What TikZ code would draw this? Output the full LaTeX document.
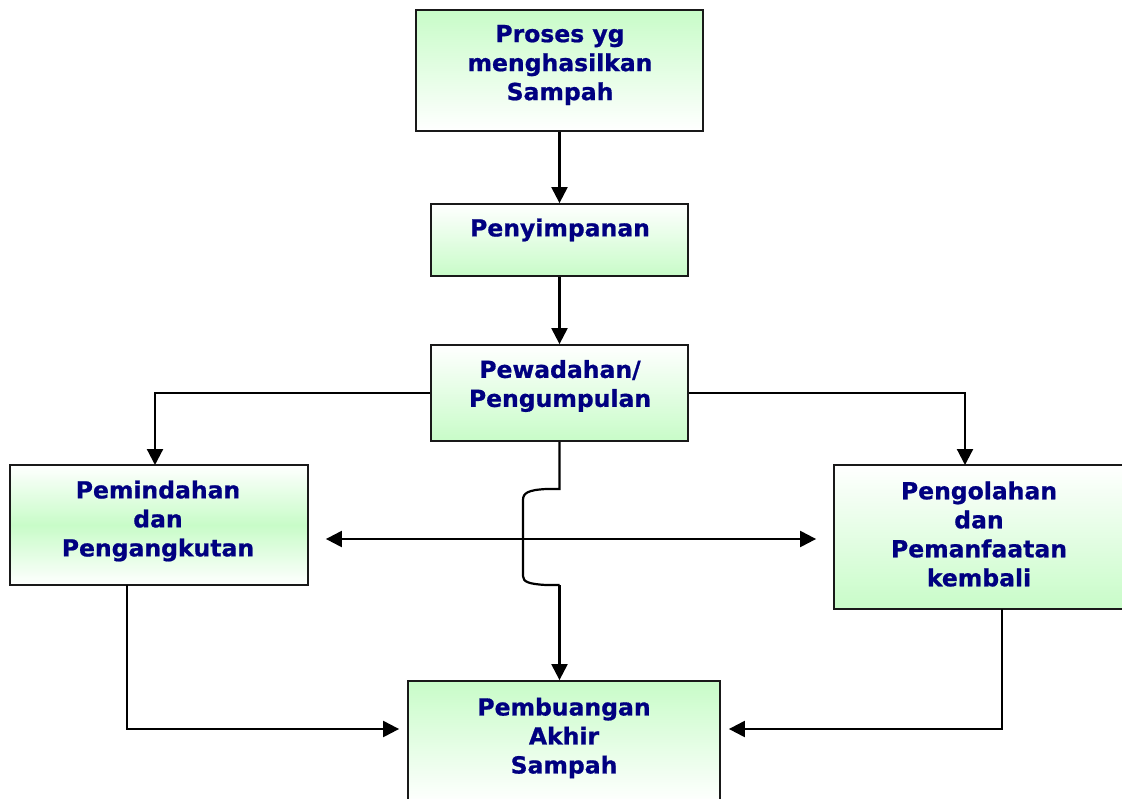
\documentclass[tikz,border=0pt]{standalone}
\usepackage{fontspec}
\setmainfont{DejaVu Sans}[BoldFeatures={FakeBold=0.8}]
\usetikzlibrary{arrows.meta,shadings}
\definecolor{navy}{RGB}{0,0,128}
\definecolor{lgreen}{RGB}{200,252,200}
\begin{document}
\begin{tikzpicture}[x=1pt,y=-1pt,
  box/.style={draw=black!90,line width=1.8pt,rectangle,inner sep=0pt},
  gdown/.style={top color=lgreen,bottom color=white},
  gup/.style={top color=white,bottom color=lgreen},
  gmid/.style={top color=white,bottom color=white,middle color=lgreen},
  txt/.style={align=center,text=navy,font=\fontsize{23.5}{29}\selectfont\bfseries,inner sep=0pt},
  tip/.style={Triangle[length=16pt,width=16pt]},
  conn/.style={line width=2.2pt,-{Triangle[length=16pt,width=16pt]}},
  plain/.style={line width=2.2pt}]
\useasboundingbox (0,0) rectangle (1122,798);
\clip (0,0) rectangle (1122,798);
% boxes
\node[box,gdown,minimum width=287pt,minimum height=121pt] (b1) at (559.5,70.5) {};
\node[box,gup,minimum width=257pt,minimum height=72pt] (b2) at (559.5,240) {};
\node[box,gup,minimum width=257pt,minimum height=96pt] (b3) at (559.5,393) {};
\node[box,gmid,minimum width=298pt,minimum height=120pt] (b4) at (159,525) {};
\node[box,gup,minimum width=292pt,minimum height=144pt] (b5) at (980,537) {};
\node[box,gdown,minimum width=312pt,minimum height=122pt] (b6) at (564,742) {};
% texts
\node[txt] (t1) at (560,65) {Proses yg\\menghasilkan\\Sampah};
\node[txt] (t2) at (560,230) {Penyimpanan};
\node[txt] (t3) at (560,386) {Pewadahan/\\Pengumpulan};
\node[txt] (t4) at (158,521) {Pemindahan\\dan\\Pengangkutan};
\node[txt] (t5) at (979,534) {Pengolahan\\dan\\Pemanfaatan\\kembali};
\node[txt] (t6) at (564,738) {Pembuangan\\Akhir\\Sampah};
% connectors
\coordinate (c4) at (155,465);
\coordinate (c5) at (965,465);
\draw[conn] (b1.south) -- (b2.north);
\draw[conn] (b2.south) -- (b3.north);
\draw[conn] (b3.west) -| (c4);
\draw[conn] (b3.east) -| (c5);
\draw[line width=2.2pt,{Triangle[length=16pt,width=16pt]}-{Triangle[length=16pt,width=16pt]},shorten <=17pt,shorten >=17pt]
  (b4.east |- 0,539) -- (b5.west |- 0,539);
\coordinate (j1) at (559.5,489);
\coordinate (j2) at (559.5,585);
\draw[plain] (b3.south) -- (j1) -- (546,489) .. controls (528,490) and (523,493) .. (523,500)
  -- (523,576) .. controls (523,582) and (529,584) .. (546,585) -- (j2);
\draw[conn] (j2) -- (j2 |- b6.north);
\coordinate (p4) at (127,585);
\coordinate (p5) at (1002,609);
\draw[conn,shorten >=8pt] (p4) |- (b6.west |- 0,729);
\draw[conn,shorten >=8pt] (p5) |- (b6.east |- 0,729);
\end{tikzpicture}
\end{document}
